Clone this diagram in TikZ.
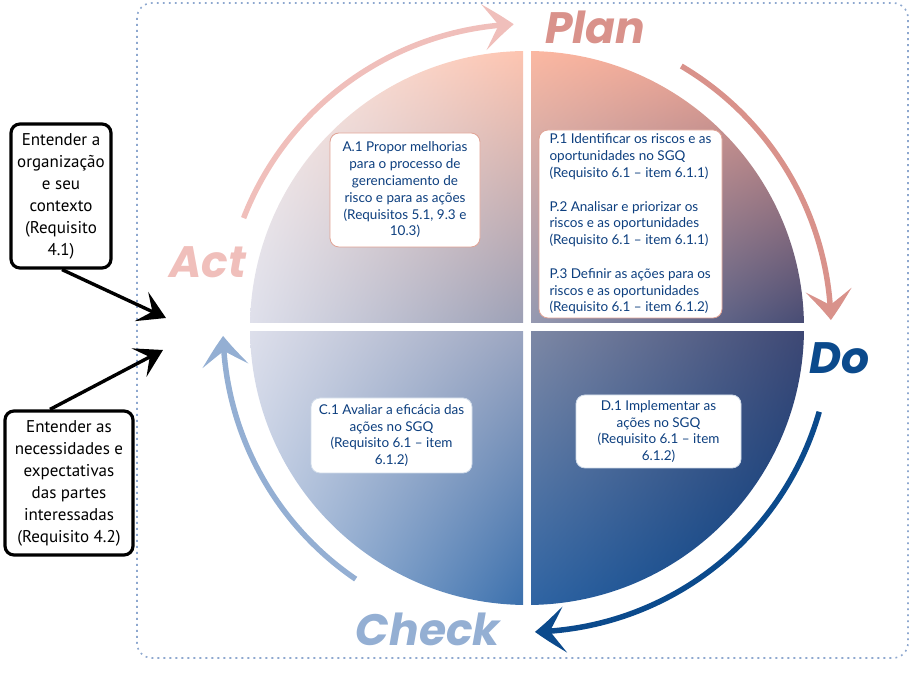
\documentclass[tikz,border=0pt]{standalone}
\usepackage{fontspec}
\setmainfont{Lato}
\newfontfamily\popfont{Poppins}
\newfontfamily\leftfont{PT Sans}
\usetikzlibrary{arrows.meta,shadings,bending}
\definecolor{navytxt}{HTML}{0D3F7F}
\definecolor{plancol}{HTML}{D9928B}
\definecolor{actcol}{HTML}{F0BFBB}
\definecolor{docol}{HTML}{0B4A8C}
\definecolor{checkcol}{HTML}{94AFD3}
\definecolor{dotcol}{HTML}{8EA8CF}
\definecolor{salborder}{HTML}{E0A294}
\definecolor{blueborder}{HTML}{D0DBE9}
\definecolor{aUL}{HTML}{FDF0EC}\definecolor{aUR}{HTML}{FDC4B0}\definecolor{aLL}{HTML}{DFE0EB}\definecolor{aLR}{HTML}{9CA0B6}
\definecolor{pUL}{HTML}{FBB8A2}\definecolor{pUR}{HTML}{EC9A8A}\definecolor{pLL}{HTML}{9599B1}\definecolor{pLR}{HTML}{474C74}
\definecolor{cUL}{HTML}{DDDFEB}\definecolor{cUR}{HTML}{9BA5C0}\definecolor{cLL}{HTML}{B6C8E2}\definecolor{cLR}{HTML}{3B70AD}
\definecolor{dUL}{HTML}{7D88A5}\definecolor{dUR}{HTML}{3E4874}\definecolor{dLL}{HTML}{2F64A3}\definecolor{dLR}{HTML}{003B7F}
\tikzset{
  inbox/.style={draw=salborder, fill=white, rounded corners=9pt, line width=0.8pt,
    font=\fontsize{13.5}{16.8}\selectfont, text=navytxt, align=center, inner sep=2pt},
  leftbox/.style={draw=black, fill=white, rounded corners=9pt, line width=3.2pt,
    font=\leftfont\fontsize{17}{22}\selectfont, text=black, align=center, inner sep=2pt},
  biglabel/.style={font=\popfont\bfseries\itshape\fontsize{44}{44}\selectfont, inner sep=0pt},
  cyclearrow/.style={line width=5.5pt, -{Stealth[length=30pt,width=46pt,inset=15pt,bend]}},
  blackarrow/.style={line width=3.4pt, draw=black, -{Stealth[length=27pt,width=32pt,inset=12pt]}},
}
\begin{document}
\begin{tikzpicture}[x=1pt,y=1pt]
\useasboundingbox (0,0) rectangle (911,682);
% dotted frame
\draw[dotcol, line width=1.6pt, dash pattern=on 1.8pt off 4.2pt, rounded corners=15pt] (137,679) rectangle (908,24);
\coordinate (C) at (527,354);
% quadrants
\begin{scope}
\clip (C) circle (277);
\shade[upper left=aUL, upper right=aUR, lower left=aLL, lower right=aLR] (250,359) rectangle (523,631);
\shade[upper left=pUL, upper right=pUR, lower left=pLL, lower right=pLR] (531,359) rectangle (804,631);
\shade[upper left=cUL, upper right=cUR, lower left=cLL, lower right=cLR] (250,77) rectangle (523,350);
\shade[upper left=dUL, upper right=dUR, lower left=dLL, lower right=dLR] (531,77) rectangle (804,350);
\end{scope}
% cycle arrows
\draw[cyclearrow, draw=actcol] (C) ++(158.8:304) arc[start angle=158.8, end angle=92.5, radius=304];
\draw[cyclearrow, draw=plancol] (C) ++(59.5:304) arc[start angle=59.5, end angle=1.5, radius=304];
\draw[cyclearrow, draw=docol] (C) ++(-16:304) arc[start angle=-16, end angle=-88.5, radius=304];
\draw[cyclearrow, draw=checkcol] (C) ++(235.7:304) arc[start angle=235.7, end angle=181.5, radius=304];
% labels
\node[biglabel, text=plancol] (plan) at (595,655) {Plan};
\node[biglabel, text=docol] (do) at (840,324) {Do};
\node[biglabel, text=checkcol] (check) at (428,53) {Check};
\node[biglabel, text=actcol] (act) at (208,420) {Act};
% inner boxes
\node[inbox, minimum width=150pt, minimum height=114pt] (a1) at (405,492)
  {A.1 Propor melhorias\\para o processo de\\gerenciamento de\\risco e para as ações\\(Requisitos 5.1, 9.3 e\\10.3)};
\node[inbox, align=left, minimum width=183pt, minimum height=188pt] (p) at (630.5,458)
  {P.1 Identificar os riscos e as\\oportunidades no SGQ\\(Requisito 6.1 – item 6.1.1)\\[16.8pt]
   P.2 Analisar e priorizar os\\riscos e as oportunidades\\(Requisito 6.1 – item 6.1.1)\\[16.8pt]
   P.3 Definir as ações para os\\riscos e as oportunidades\\(Requisito 6.1 – item 6.1.2)};
\node[inbox, draw=blueborder, minimum width=161pt, minimum height=75pt] (c1) at (391.5,246.5)
  {C.1 Avaliar a eficácia das\\ações no SGQ\\(Requisito 6.1 – item\\6.1.2)};
\node[inbox, draw=blueborder, minimum width=165pt, minimum height=73pt] (d1) at (658.5,250.5)
  {D.1 Implementar as\\ações no SGQ\\(Requisito 6.1 – item\\6.1.2)};
% left boxes
\node[leftbox, minimum width=100pt, minimum height=144pt] (l1) at (61,486)
  {Entender a\\organização\\e seu\\contexto\\(Requisito\\4.1)};
\node[leftbox, minimum width=128pt, minimum height=144pt] (l2) at (69,199)
  {Entender as\\necessidades e\\expectativas\\das partes\\interessadas\\(Requisito 4.2)};
\coordinate (t1) at (166,364);
\coordinate (t2) at (163,332);
\draw[blackarrow] ([xshift=1pt]l1.south) -- (t1);
\draw[blackarrow] ([xshift=-19pt]l2.north) -- (t2);
\end{tikzpicture}
\end{document}
